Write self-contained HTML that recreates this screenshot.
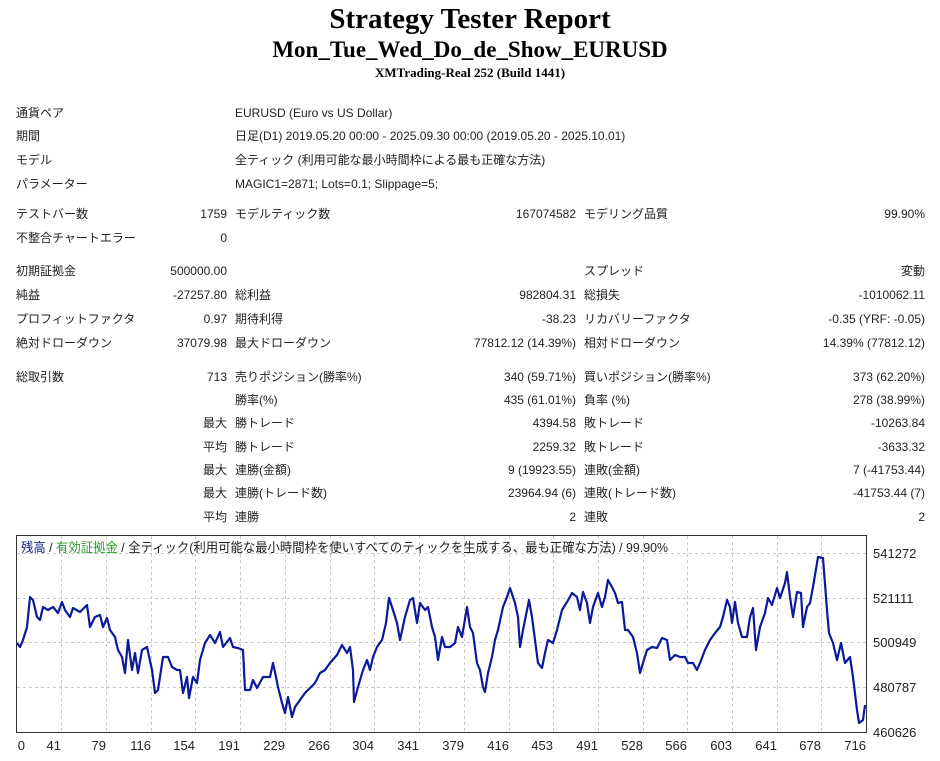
<!DOCTYPE html>
<html><head><meta charset="utf-8"><style>
body{margin:0;width:940px;height:761px;background:#fff;position:relative;overflow:hidden;font-family:"Liberation Sans","Noto Sans CJK JP",sans-serif;color:#222}
.t{position:absolute;font-size:12px;line-height:16px;white-space:nowrap}
.r{text-align:right}
.h{position:absolute;left:0;width:940px;text-align:center;font-family:"Liberation Serif","Noto Serif CJK SC",serif;font-weight:bold;color:#000;white-space:nowrap}
</style></head><body>
<div class="h" style="top:2px;font-size:29px;line-height:34px">Strategy Tester Report</div>
<div class="h" style="top:36px;font-size:23px;line-height:28px">Mon_Tue_Wed_Do_de_Show_EURUSD</div>
<div class="h" style="top:65px;font-size:13px;line-height:16px">XMTrading-Real 252 (Build 1441)</div>

<div class="t" style="left:16px;top:105px">通貨ペア</div><div class="t" style="left:235px;top:105px">EURUSD (Euro vs US Dollar)</div>
<div class="t" style="left:16px;top:128px">期間</div><div class="t" style="left:235px;top:128px">日足(D1) 2019.05.20 00:00 - 2025.09.30 00:00 (2019.05.20 - 2025.10.01)</div>
<div class="t" style="left:16px;top:152px">モデル</div><div class="t" style="left:235px;top:152px">全ティック (利用可能な最小時間枠による最も正確な方法)</div>
<div class="t" style="left:16px;top:176px">パラメーター</div><div class="t" style="left:235px;top:176px">MAGIC1=2871; Lots=0.1; Slippage=5;</div>

<div class="t" style="left:16px;top:206px">テストバー数</div><div class="t r" style="right:713px;top:206px">1759</div><div class="t" style="left:235px;top:206px">モデルティック数</div><div class="t r" style="right:364px;top:206px">167074582</div><div class="t" style="left:584px;top:206px">モデリング品質</div><div class="t r" style="right:15px;top:206px">99.90%</div>
<div class="t" style="left:16px;top:230px">不整合チャートエラー</div><div class="t r" style="right:713px;top:230px">0</div>

<div class="t" style="left:16px;top:263px">初期証拠金</div><div class="t r" style="right:713px;top:263px">500000.00</div><div class="t" style="left:584px;top:263px">スプレッド</div><div class="t r" style="right:15px;top:263px">変動</div>
<div class="t" style="left:16px;top:287px">純益</div><div class="t r" style="right:713px;top:287px">-27257.80</div><div class="t" style="left:235px;top:287px">総利益</div><div class="t r" style="right:364px;top:287px">982804.31</div><div class="t" style="left:584px;top:287px">総損失</div><div class="t r" style="right:15px;top:287px">-1010062.11</div>
<div class="t" style="left:16px;top:311px">プロフィットファクタ</div><div class="t r" style="right:713px;top:311px">0.97</div><div class="t" style="left:235px;top:311px">期待利得</div><div class="t r" style="right:364px;top:311px">-38.23</div><div class="t" style="left:584px;top:311px">リカバリーファクタ</div><div class="t r" style="right:15px;top:311px">-0.35 (YRF: -0.05)</div>
<div class="t" style="left:16px;top:335px">絶対ドローダウン</div><div class="t r" style="right:713px;top:335px">37079.98</div><div class="t" style="left:235px;top:335px">最大ドローダウン</div><div class="t r" style="right:364px;top:335px">77812.12 (14.39%)</div><div class="t" style="left:584px;top:335px">相対ドローダウン</div><div class="t r" style="right:15px;top:335px">14.39% (77812.12)</div>

<div class="t" style="left:16px;top:369px">総取引数</div><div class="t r" style="right:713px;top:369px">713</div><div class="t" style="left:235px;top:369px">売りポジション(勝率%)</div><div class="t r" style="right:364px;top:369px">340 (59.71%)</div><div class="t" style="left:584px;top:369px">買いポジション(勝率%)</div><div class="t r" style="right:15px;top:369px">373 (62.20%)</div>
<div class="t" style="left:235px;top:392px">勝率(%)</div><div class="t r" style="right:364px;top:392px">435 (61.01%)</div><div class="t" style="left:584px;top:392px">負率 (%)</div><div class="t r" style="right:15px;top:392px">278 (38.99%)</div>
<div class="t r" style="right:713px;top:415px">最大</div><div class="t" style="left:235px;top:415px">勝トレード</div><div class="t r" style="right:364px;top:415px">4394.58</div><div class="t" style="left:584px;top:415px">敗トレード</div><div class="t r" style="right:15px;top:415px">-10263.84</div>
<div class="t r" style="right:713px;top:439px">平均</div><div class="t" style="left:235px;top:439px">勝トレード</div><div class="t r" style="right:364px;top:439px">2259.32</div><div class="t" style="left:584px;top:439px">敗トレード</div><div class="t r" style="right:15px;top:439px">-3633.32</div>
<div class="t r" style="right:713px;top:462px">最大</div><div class="t" style="left:235px;top:462px">連勝(金額)</div><div class="t r" style="right:364px;top:462px">9 (19923.55)</div><div class="t" style="left:584px;top:462px">連敗(金額)</div><div class="t r" style="right:15px;top:462px">7 (-41753.44)</div>
<div class="t r" style="right:713px;top:485px">最大</div><div class="t" style="left:235px;top:485px">連勝(トレード数)</div><div class="t r" style="right:364px;top:485px">23964.94 (6)</div><div class="t" style="left:584px;top:485px">連敗(トレード数)</div><div class="t r" style="right:15px;top:485px">-41753.44 (7)</div>
<div class="t r" style="right:713px;top:509px">平均</div><div class="t" style="left:235px;top:509px">連勝</div><div class="t r" style="right:364px;top:509px">2</div><div class="t" style="left:584px;top:509px">連敗</div><div class="t r" style="right:15px;top:509px">2</div>

<svg style="position:absolute;left:0;top:0" width="940" height="761" font-family="'Liberation Sans','Noto Sans CJK JP',sans-serif">
<g stroke="#c8c8c8" stroke-dasharray="3,3" stroke-width="1">
<line x1="17" y1="553.5" x2="866" y2="553.5"/><line x1="17" y1="598.5" x2="866" y2="598.5"/><line x1="17" y1="642.5" x2="866" y2="642.5"/><line x1="17" y1="687.5" x2="866" y2="687.5"/>
<line x1="61.5" y1="536" x2="61.5" y2="732"/><line x1="106.5" y1="536" x2="106.5" y2="732"/><line x1="151.5" y1="536" x2="151.5" y2="732"/><line x1="195.5" y1="536" x2="195.5" y2="732"/><line x1="240.5" y1="536" x2="240.5" y2="732"/><line x1="285.5" y1="536" x2="285.5" y2="732"/><line x1="330.5" y1="536" x2="330.5" y2="732"/><line x1="374.5" y1="536" x2="374.5" y2="732"/><line x1="419.5" y1="536" x2="419.5" y2="732"/><line x1="464.5" y1="536" x2="464.5" y2="732"/><line x1="509.5" y1="536" x2="509.5" y2="732"/><line x1="553.5" y1="536" x2="553.5" y2="732"/><line x1="598.5" y1="536" x2="598.5" y2="732"/><line x1="643.5" y1="536" x2="643.5" y2="732"/><line x1="687.5" y1="536" x2="687.5" y2="732"/><line x1="732.5" y1="536" x2="732.5" y2="732"/><line x1="777.5" y1="536" x2="777.5" y2="732"/><line x1="821.5" y1="536" x2="821.5" y2="732"/>
</g>
<rect x="16.5" y="535.5" width="850" height="197" fill="none" stroke="#333" stroke-width="1"/>
<polyline fill="none" stroke="#0a1a9a" stroke-width="2.2" stroke-linejoin="round" points="17,643 20,647 23,640 27,627 30,597 33,600 37,617 40,620 43,607 48,610 53,607 58,613 62,602 65,610 70,617 73,608 80,612 87,605 90,627 95,617 100,615 103,627 107,618 110,630 115,637 118,650 122,657 125,673 128,640 132,670 135,653 138,673 142,650 147,647 152,670 155,693 158,690 163,657 168,657 172,667 177,670 180,670 183,693 187,677 189,698 193,677 197,683 200,660 205,643 210,635 215,643 220,632 223,647 230,638 233,647 238,648 243,650 245,690 250,690 253,680 257,688 263,677 270,677 273,663 276,677 278,687 282,703 285,713 288,697 292,717 295,707 300,700 305,693 310,688 315,683 320,673 325,670 330,663 337,655 342,645 347,653 350,647 353,670 354,702 358,687 363,670 367,660 370,670 373,657 377,647 382,640 386,623 389,598 393,610 397,623 400,640 405,617 410,600 413,598 417,623 420,603 425,610 428,607 432,627 435,637 438,660 442,637 445,647 450,647 455,643 458,627 462,637 467,607 470,627 473,633 477,663 480,670 483,687 485,692 488,673 492,657 495,640 498,630 503,607 507,597 510,588 513,597 515,603 518,617 520,647 523,630 527,610 529,600 532,617 535,640 538,663 542,668 545,653 548,640 553,643 557,630 562,610 567,602 572,593 577,597 580,610 583,592 587,603 590,623 593,607 598,593 602,607 605,597 608,580 612,587 615,593 618,603 622,602 625,630 628,630 633,637 637,653 640,673 643,663 647,650 652,647 657,648 662,638 667,640 670,660 675,655 680,657 685,657 688,663 693,663 697,670 700,663 705,650 710,640 715,633 720,627 723,617 727,600 730,607 732,623 735,602 738,623 742,637 747,637 750,617 753,608 756,650 760,627 765,613 768,598 772,605 777,588 780,598 785,583 787,572 790,597 793,617 797,592 801,593 803,627 807,607 810,603 813,587 818,557 823,558 827,610 829,633 833,643 837,660 841,643 845,663 850,657 853,677 857,710 859,723 863,720 865,705"/>
<g font-size="13" fill="#222">
<text x="873" y="558">541272</text><text x="873" y="603">521111</text><text x="873" y="647">500949</text><text x="873" y="692">480787</text><text x="873" y="737">460626</text>
</g>
<g font-size="13" fill="#222" text-anchor="end">
<text x="25" y="750">0</text><text x="61" y="750">41</text><text x="106" y="750">79</text><text x="151" y="750">116</text><text x="195" y="750">154</text><text x="240" y="750">191</text><text x="285" y="750">229</text><text x="330" y="750">266</text><text x="374" y="750">304</text><text x="419" y="750">341</text><text x="464" y="750">379</text><text x="509" y="750">416</text><text x="553" y="750">453</text><text x="598" y="750">491</text><text x="643" y="750">528</text><text x="687" y="750">566</text><text x="732" y="750">603</text><text x="777" y="750">641</text><text x="821" y="750">678</text><text x="866" y="750">716</text>
</g>
<text x="21" y="552" font-size="13" fill="#222" textLength="647" lengthAdjust="spacingAndGlyphs"><tspan fill="#1a237e">残高</tspan> / <tspan fill="#2e9b2e">有効証拠金</tspan> / 全ティック(利用可能な最小時間枠を使いすべてのティックを生成する、最も正確な方法) / 99.90%</text>
</svg>
</body></html>
